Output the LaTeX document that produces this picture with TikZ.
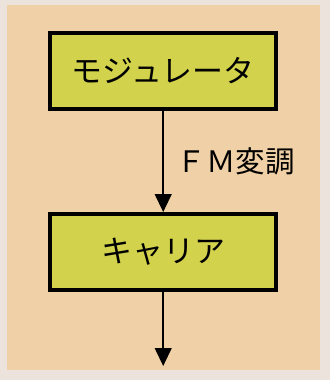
\documentclass[tikz,border=0pt]{standalone}
\usepackage{fontspec}
\newfontfamily\jpfont{Noto Sans CJK JP}
\usetikzlibrary{arrows.meta}

\definecolor{paper}{RGB}{236,228,220}
\definecolor{peach}{RGB}{240,208,166}
\definecolor{boxfill}{RGB}{210,210,76}

\begin{document}
\begin{tikzpicture}[
        block/.style={rectangle, draw=black, fill=boxfill, line width=2.8pt, minimum width=5.65cm, minimum height=1.9cm, text centered, font=\jpfont\fontsize{22pt}{26pt}\selectfont},
        flow/.style={line width=1.3pt, -{Triangle[width=0.42cm, length=0.45cm]}}
    ]
        % Background
        \fill[paper] (0, 0) rectangle (8.25, -9.5);
        \fill[peach] (0.18, -0.12) rectangle (8.0, -9.25);
        \useasboundingbox (0, 0) rectangle (8.25, -9.5);

        % Nodes
        \node (mod) at (4.08, -1.775) [block] {モジュレータ};
        \node (car) at (4.08, -6.3) [block] {キャリア};
        \coordinate (out) at (4.08, -9.15);

        % Arrows
        \draw[flow] (mod) -- node[right, xshift=0.2cm, font=\jpfont\fontsize{21pt}{25pt}\selectfont] {ＦＭ変調} (car);
        \draw[flow] (car) -- (out);

    \end{tikzpicture}
\end{document}
